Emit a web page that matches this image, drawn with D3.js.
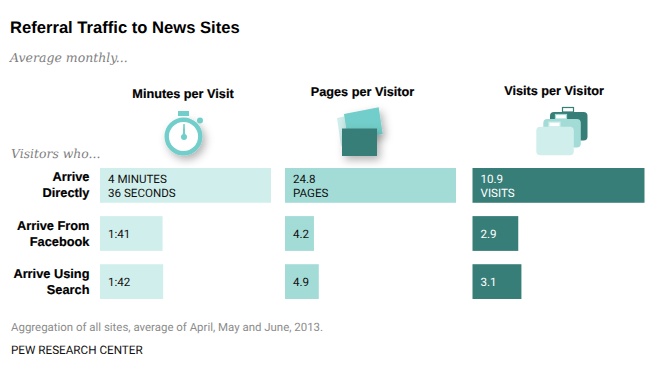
<!DOCTYPE html>
<html><head><meta charset="utf-8">
<script src="https://cdn.jsdelivr.net/npm/d3@7"></script>
<style>html,body{margin:0;padding:0;background:#fff}svg{display:block}text{text-rendering:geometricPrecision}</style>
</head><body><svg id="c" width="660" height="377"></svg>
<script>
const rowLabels = [["Arrive","Directly"],["Arrive From","Facebook"],["Arrive Using","Search"]];
const minutesSeconds = [276,101,102];
const pagesValues = [24.8,4.2,4.9];
const visitsValues = [10.9,2.9,3.1];
const minutesLabels = [["4 MINUTES","36 SECONDS"],["1:41"],["1:42"]];
const pagesLabels = [["24.8","PAGES"],["4.2"],["4.9"]];
const visitsLabels = [["10.9","VISITS"],["2.9"],["3.1"]];
const headers = ["Minutes per Visit","Pages per Visitor","Visits per Visitor"];

const svg = d3.select("#c");
const HEAD = "'Liberation Sans',Arial,sans-serif";
const BODY = "'Roboto','Liberation Sans',sans-serif";
const SERIF = "'DejaVu Serif','Liberation Serif',serif";

const defs = svg.append("defs");
const f = defs.append("filter").attr("id","sh").attr("x","-40%").attr("y","-40%").attr("width","200%").attr("height","200%");
f.append("feDropShadow").attr("dx",3).attr("dy",4).attr("stdDeviation",4).attr("flood-color","#000").attr("flood-opacity",0.3);

function txt(x,y,s,o={}){
  return svg.append("text").attr("x",x).attr("y",y).text(s)
    .attr("font-family",o.font||HEAD).attr("font-size",o.size||12)
    .attr("font-weight",o.weight||"normal").attr("font-style",o.style||"normal")
    .attr("fill",o.fill||"#000").attr("text-anchor",o.anchor||"start")
    .attr("stroke",o.stroke||"none").attr("stroke-width",o.sw||0);
}
txt(10,33,"Referral Traffic to News Sites",{size:16.6,weight:"bold"});
txt(10,62,"Average monthly...",{font:SERIF,size:12.5,style:"italic",fill:"#7f7f7f"});
txt(11,158,"Visitors who...",{font:SERIF,size:12.4,style:"italic",fill:"#7f7f7f"});

const y = d3.scaleBand().domain(d3.range(3)).range([168,299]).paddingInner(0.277).paddingOuter(0);
const cols = [
  {vals:minutesSeconds,max:276,x0:100,x1:271,fill:"#d0efec",labels:minutesLabels,tc:"#111",hx:183,hy:98},
  {vals:pagesValues,max:24.8,x0:285,x1:456,fill:"#a3dcd7",labels:pagesLabels,tc:"#111",hx:362.5,hy:96},
  {vals:visitsValues,max:10.9,x0:472.5,x1:644.5,fill:"#387e78",labels:visitsLabels,tc:"#fff",hx:554,hy:95}
];
cols.forEach((c,ci)=>{
  const x = d3.scaleLinear().domain([0,c.max]).range([c.x0,c.x1]);
  txt(c.hx,c.hy,headers[ci],{size:12.7,weight:"bold",anchor:"middle",stroke:"#000",sw:0.2});
  svg.append("g").selectAll("rect").data(c.vals).join("rect")
    .attr("x",x(0)).attr("y",(d,i)=>y(i)).attr("width",d=>x(d)-x(0)).attr("height",y.bandwidth()).attr("fill",c.fill);
  c.labels.forEach((ls,i)=>{
    const mid = y(i)+y.bandwidth()/2;
    ls.forEach((l,j)=>{
      const by = ls.length===2 ? mid-2.5+j*14 : mid+4;
      txt(c.x0+8,by,l,{font:BODY,size:11.6,fill:c.tc});
    });
  });
});
rowLabels.forEach((ls,i)=>{
  const mid = y(i)+y.bandwidth()/2;
  ls.forEach((l,j)=>txt(89.5,mid-4+j*16,l,{size:12.8,weight:"bold",anchor:"end",stroke:"#000",sw:0.2}));
});
txt(11,331,"Aggregation of all sites, average of April, May and June, 2013.",{font:BODY,size:11.45,fill:"#8c8c8c"});
txt(11,354,"PEW RESEARCH CENTER",{font:BODY,size:11.7,fill:"#111"});

// Stopwatch icon
const sw = svg.append("g");
const swS = sw.append("g").attr("filter","url(#sh)");
swS.append("circle").attr("cx",183.5).attr("cy",136.5).attr("r",16.8).attr("fill","#fff").attr("stroke","#72ceca").attr("stroke-width",4.4);
sw.append("rect").attr("x",178).attr("y",111).attr("width",11).attr("height",5).attr("fill","#72ceca");
sw.append("circle").attr("cx",200).attr("cy",120.5).attr("r",3).attr("fill","#72ceca");
sw.append("circle").attr("cx",184).attr("cy",137).attr("r",3).attr("fill","#72ceca");
sw.append("path").attr("d","M183.3 124L184.7 124L185.3 137L182.7 137Z").attr("fill","#72ceca");

// Pages icon
const pg = svg.append("g");
pg.append("path").attr("d","M337 118L346 116L348 145L341 146Z").attr("fill","#d0efec");
pg.append("path").attr("d","M344 114L378.7 107.3L382.7 134L348 140Z").attr("fill","#72ceca").attr("filter","url(#sh)");
pg.append("rect").attr("x",342).attr("y",128.5).attr("width",35).attr("height",27.5).attr("fill","#387e78").attr("filter","url(#sh)");

// Briefcase icon
function brief(x,yy,fill,hx){
  svg.append("rect").attr("x",hx+1).attr("y",yy-4.5).attr("width",11).attr("height",4.5).attr("fill","#fff").attr("stroke",fill).attr("stroke-width",1.2);
  svg.append("rect").attr("x",x).attr("y",yy).attr("width",37.5).attr("height",28.5).attr("rx",4).attr("fill",fill);
}
brief(550,112,"#387e78",561.5);
brief(543.3,119,"#a3dcd7",554.5);
brief(536.3,126.7,"#d0efec",548);
</script></body></html>
